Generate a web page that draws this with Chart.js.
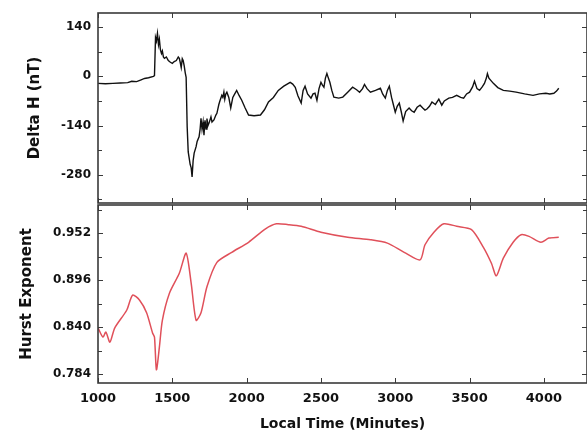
<!DOCTYPE html>
<html>
<head>
<meta charset="utf-8">
<script src="https://cdn.jsdelivr.net/npm/chart.js@4"></script>
<style>
  html, body { margin: 0; padding: 0; background: #fff; }
  #wrap { position: relative; width: 587px; height: 434px; overflow: hidden; }
  #top-box { position: absolute; left: 0; top: 0; width: 587px; height: 204px; }
  #bottom-box { position: absolute; left: 0; top: 203px; width: 587px; height: 231px; }
</style>
</head>
<body>
<div id="wrap">
  <div id="top-box"><canvas id="chart-delta"></canvas></div>
  <div id="bottom-box"><canvas id="chart-hurst"></canvas></div>
</div>
<script>
// x axis (local time, minutes)
const timeTicks = [1000, 1500, 2000, 2500, 3000, 3500, 4000];

// top panel: Delta H (nT)
const deltaTicks = [-280, -140, 0, 140];
const deltaMinor = [-350, -280, -210, -140, -70, 0, 70, 140];
const deltaTime = [1000, 1050, 1100, 1150, 1200, 1227, 1260, 1290, 1313, 1340, 1373, 1380, 1387, 1393, 1400, 1407, 1413, 1420, 1427, 1433, 1440, 1447, 1460, 1473, 1487, 1500, 1513, 1527, 1540, 1547, 1553, 1560, 1567, 1573, 1580, 1587, 1593, 1600, 1607, 1620, 1627, 1633, 1640, 1647, 1660, 1667, 1680, 1687, 1693, 1700, 1707, 1713, 1720, 1727, 1733, 1740, 1747, 1760, 1767, 1780, 1793, 1800, 1813, 1820, 1833, 1840, 1847, 1853, 1860, 1867, 1880, 1893, 1907, 1920, 1933, 1950, 1967, 1990, 2013, 2050, 2093, 2120, 2147, 2180, 2213, 2250, 2293, 2310, 2327, 2345, 2367, 2380, 2393, 2410, 2433, 2447, 2460, 2473, 2487, 2500, 2510, 2520, 2530, 2540, 2550, 2560, 2573, 2587, 2620, 2647, 2680, 2713, 2740, 2760, 2780, 2793, 2810, 2833, 2867, 2900, 2915, 2933, 2947, 2960, 2975, 2987, 3000, 3013, 3027, 3040, 3053, 3070, 3093, 3110, 3127, 3147, 3167, 3185, 3200, 3213, 3230, 3247, 3270, 3293, 3313, 3330, 3360, 3385, 3413, 3440, 3460, 3480, 3500, 3520, 3533, 3550, 3567, 3585, 3600, 3613, 3620, 3630, 3660, 3690, 3727, 3770, 3813, 3870, 3927, 3970, 4013, 4040, 4067, 4085, 4100];
const deltaH = [-20, -21, -20, -19, -18, -14, -15, -10, -6, -4, 0, 2, 110, 100, 122, 90, 105, 75, 65, 72, 55, 51, 55, 45, 40, 37, 42, 45, 55, 51, 40, 25, 50, 45, 30, 10, -3, -144, -215, -250, -260, -286, -240, -218, -200, -185, -172, -150, -119, -150, -130, -167, -125, -150, -120, -140, -133, -115, -130, -124, -110, -105, -80, -70, -54, -60, -45, -65, -50, -45, -60, -90, -60, -50, -40, -55, -68, -90, -110, -112, -110, -95, -73, -60, -40, -28, -17, -22, -31, -55, -76, -40, -28, -50, -62, -50, -48, -68, -35, -17, -25, -31, -5, 8, -5, -17, -40, -59, -62, -59, -45, -31, -38, -45, -35, -23, -35, -45, -40, -34, -50, -62, -40, -28, -60, -80, -102, -85, -76, -100, -127, -100, -90, -98, -102, -88, -82, -90, -96, -93, -85, -73, -80, -65, -82, -70, -62, -60, -54, -60, -62, -50, -45, -30, -14, -35, -40, -30, -20, -5, 8, -5, -20, -32, -40, -42, -45, -50, -54, -50, -48, -50, -48, -42, -34];

// bottom panel: Hurst exponent
const hurstTicks = [0.784, 0.840, 0.896, 0.952];
const hurstMinor = [0.784, 0.812, 0.840, 0.868, 0.896, 0.924, 0.952, 0.980];
const hurstTime = [1000, 1033, 1053, 1080, 1113, 1193, 1233, 1280, 1327, 1367, 1380, 1393, 1413, 1433, 1480, 1547, 1593, 1627, 1660, 1693, 1733, 1800, 1900, 2013, 2127, 2200, 2280, 2367, 2500, 2680, 2833, 2947, 3060, 3167, 3200, 3260, 3327, 3413, 3513, 3593, 3647, 3680, 3727, 3793, 3847, 3900, 3980, 4033, 4100];
const hurst = [0.839, 0.828, 0.834, 0.822, 0.839, 0.860, 0.878, 0.872, 0.857, 0.833, 0.828, 0.789, 0.816, 0.848, 0.880, 0.904, 0.928, 0.892, 0.848, 0.857, 0.888, 0.917, 0.929, 0.941, 0.957, 0.963, 0.962, 0.960, 0.953, 0.947, 0.944, 0.940, 0.929, 0.920, 0.938, 0.953, 0.963, 0.960, 0.956, 0.935, 0.916, 0.901, 0.922, 0.941, 0.950, 0.948, 0.941, 0.946, 0.947];

const X_MIN = 1000, X_MAX = 4290;
const FONT = "'DejaVu Sans', sans-serif";
Chart.defaults.color = "#111";
Chart.defaults.font.family = FONT;

// frame + inward tick marks, placed with the chart's own scales
const framePlugin = {
  id: "frame",
  afterDraw(chart, args, opts) {
    const { ctx, chartArea: a, scales } = chart;
    ctx.save();
    ctx.strokeStyle = "#3a3a3a";
    ctx.lineWidth = 1;
    ctx.beginPath();
    timeTicks.forEach(v => {
      const px = Math.round(scales.x.getPixelForValue(v)) + 0.5;
      ctx.moveTo(px, a.top); ctx.lineTo(px, a.top + 5);
      ctx.moveTo(px, a.bottom); ctx.lineTo(px, a.bottom - 5);
    });
    opts.minor.forEach(v => {
      const py = Math.round(scales.y.getPixelForValue(v)) + 0.5;
      const len = opts.major.includes(v) ? 5 : 4;
      ctx.moveTo(a.left, py); ctx.lineTo(a.left + len, py);
      ctx.moveTo(a.right, py); ctx.lineTo(a.right - len, py);
    });
    ctx.stroke();
    ctx.lineWidth = 1.6;
    ctx.strokeRect(a.left, a.top, a.right - a.left, a.bottom - a.top);
    ctx.restore();
  },
};

const noPad = s => { s.paddingTop = 0; s.paddingBottom = 0; s.paddingLeft = 0; s.paddingRight = 0; };

const xScale = (show) => ({
  type: "linear",
  min: X_MIN,
  max: X_MAX,
  display: show,
  afterBuildTicks: s => { s.ticks = timeTicks.map(v => ({ value: v })); },
  afterFit: s => { noPad(s); if (show) s.height = 51; },
  grid: { display: false, drawTicks: false },
  border: { display: false },
  ticks: { padding: 8, maxRotation: 0, font: { size: 13, weight: "bold" }, callback: v => v },
  title: {
    display: show,
    text: "Local Time (Minutes)",
    font: { size: 14, weight: "bold" },
    padding: { top: 0, bottom: 1 },
  },
});

const yScale = (min, max, ticks, title, titlePad, fmt) => ({
  type: "linear",
  min: min,
  max: max,
  afterBuildTicks: s => { s.ticks = ticks.map(v => ({ value: v })); },
  afterFit: s => { noPad(s); s.width = 98; },
  grid: { display: false, drawTicks: false },
  border: { display: false },
  ticks: { padding: 7, font: { size: 12, weight: "bold" }, callback: fmt },
  title: {
    display: true,
    text: title,
    font: { size: 15, weight: "bold" },
    padding: { top: titlePad, bottom: 0 },
  },
});

new Chart(document.getElementById("chart-delta"), {
  type: "line",
  data: {
    datasets: [{
      label: "Delta H",
      data: deltaTime.map((t, i) => ({ x: t, y: deltaH[i] })),
      borderColor: "#111",
      borderWidth: 1.4,
      pointRadius: 0,
      tension: 0,
    }],
  },
  options: {
    responsive: true,
    maintainAspectRatio: false,
    animation: false,
    layout: { padding: { top: 13, right: 0, bottom: 1, left: 0 } },
    plugins: { legend: { display: false }, tooltip: { enabled: false },
      frame: { major: deltaTicks, minor: deltaMinor } },
    scales: {
      x: xScale(false),
      y: yScale(-360, 180, deltaTicks, "Delta H (nT)", 26, v => v),
    },
  },
  plugins: [framePlugin],
});

new Chart(document.getElementById("chart-hurst"), {
  type: "line",
  data: {
    datasets: [{
      label: "Hurst Exponent",
      data: hurstTime.map((t, i) => ({ x: t, y: hurst[i] })),
      borderColor: "#e0505a",
      borderWidth: 1.5,
      pointRadius: 0,
      tension: 0.25,
    }],
  },
  options: {
    responsive: true,
    maintainAspectRatio: false,
    animation: false,
    layout: { padding: { top: 2, right: 0, bottom: 0, left: 0 } },
    plugins: { legend: { display: false }, tooltip: { enabled: false },
      frame: { major: hurstTicks, minor: hurstMinor } },
    scales: {
      x: xScale(true),
      y: yScale(0.7733, 0.9854, hurstTicks, "Hurst Exponent", 18, v => v.toFixed(3)),
    },
  },
  plugins: [framePlugin],
});
</script>
</body>
</html>
